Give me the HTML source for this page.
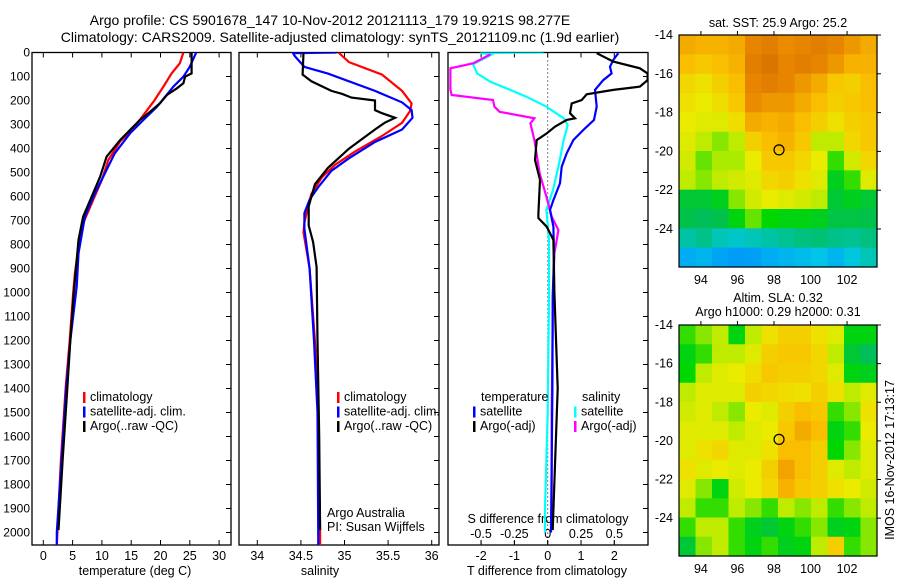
<!DOCTYPE html>
<html><head><meta charset="utf-8"><style>
body{margin:0;background:#fff}
svg{display:block;font-family:"Liberation Sans",sans-serif}
</style></head><body>
<svg id="c" width="900" height="580" viewBox="0 0 900 580"></svg>
<script>
// ---------- data ----------
const depthTicks=[0,100,200,300,400,500,600,700,800,900,1000,1100,1200,1300,1400,1500,1600,1700,1800,1900,2000];
const tTicks=[0,5,10,15,20,25,30];
const sTicks=[34,34.5,35,35.5,36];
const tdTicks=[-2,-1,0,1,2];
const sdTicks=[-0.5,-0.25,0,0.25,0.5];
const sdTickLabels=["-0.5","-0.25","0","0.25","0.5"];
// temperature profiles [depth, value]
const tempClim=[[0,23.9],[45,23.3],[87,21.9],[142,20.5],[205,18.8],[260,17.1],[316,15.4],[371,13.1],[448,11.1],[531,10.0],[615,8.5],[712,6.8],[809,6.0],[920,5.4],[1000,5.1],[1200,4.5],[1400,3.8],[1700,3.0],[2000,2.4],[2052,2.3]];
const tempSat=[[0,26.1],[10,25.9],[59,25.0],[101,23.9],[142,22.2],[184,20.8],[226,19.4],[281,17.1],[337,14.8],[420,12.2],[504,10.5],[587,8.8],[684,7.1],[837,6.0],[976,5.7],[1200,4.6],[1400,3.9],[1700,3.1],[2000,2.3],[2052,2.3]];
const tempArgo=[[0,25.3],[87,25.3],[101,24.2],[128,23.9],[149,22.8],[177,21.1],[212,19.9],[247,18.2],[281,16.5],[323,14.8],[365,13.1],[434,10.8],[518,9.7],[615,8.0],[684,6.8],[781,6.0],[1000,5.2],[1200,4.6],[1400,4.1],[1700,3.3],[1990,2.6]];
// salinity profiles
const salClim=[[0,34.93],[40,35.05],[92,35.43],[160,35.66],[212,35.77],[245,35.75],[293,35.66],[348,35.43],[413,35.12],[468,34.89],[521,34.74],[589,34.62],[629,34.59],[709,34.54],[749,34.53],[900,34.6],[1200,34.66],[1500,34.7],[2000,34.72],[2052,34.72]];
const salSat=[[0,34.91],[3,34.41],[15,34.43],[60,34.54],[88,34.81],[160,35.35],[208,35.66],[240,35.77],[272,35.78],[321,35.66],[373,35.35],[441,35.05],[493,34.85],[561,34.70],[613,34.60],[669,34.54],[735,34.54],[900,34.6],[1200,34.65],[1500,34.69],[2052,34.7]];
const salArgo=[[0,34.53],[92,34.52],[120,34.62],[160,34.85],[172,34.97],[188,35.08],[200,35.35],[240,35.35],[253,35.43],[272,35.58],[293,35.46],[321,35.35],[401,35.05],[481,34.81],[549,34.66],[641,34.59],[721,34.59],[790,34.64],[894,34.68],[1200,34.69],[1600,34.71],[1990,34.72]];
// difference profiles
const tdSat=[[3,2.12],[31,1.97],[59,1.87],[87,1.92],[115,1.67],[156,1.42],[226,1.47],[281,1.39],[323,1.07],[365,0.77],[420,0.57],[476,0.42],[545,0.37],[615,0.17],[656,0.07],[726,0.17],[851,0.19],[1017,0.15],[1400,0.14],[2000,0.1]];
const tdArgo=[[3,1.47],[38,1.97],[66,2.77],[87,3.0],[115,3.0],[142,2.77],[156,1.97],[174,1.17],[198,1.02],[212,0.72],[253,0.67],[274,0.82],[281,0.57],[309,0.22],[337,-0.03],[365,-0.33],[448,-0.38],[531,-0.23],[670,-0.28],[690,-0.28],[726,-0.03],[781,0.17],[1000,0.2],[1400,0.3],[1600,0.25],[1990,0.15]];
const sdSat=[[0,-0.03],[2,-0.51],[8,-0.42],[49,-0.56],[87,-0.53],[122,-0.43],[149,-0.31],[184,-0.16],[226,-0.01],[274,0.12],[302,0.15],[365,0.12],[476,0.08],[573,0.04],[656,-0.01],[781,0.01],[1017,0.01],[1500,0.0],[1900,-0.02],[2000,-0.02]];
const sdArgo=[[8,-0.43],[45,-0.56],[66,-0.73],[156,-0.73],[177,-0.72],[198,-0.41],[226,-0.40],[247,-0.36],[274,-0.10],[295,-0.13],[365,-0.10],[504,-0.06],[601,-0.01],[684,0.03],[740,0.08],[837,0.05],[1017,0.04],[1500,0.03],[1990,0.03]];
// map grids (normalized colour values, rows north->south)
const sstGrid=[
[0.8,0.78,0.78,0.8,0.9,0.92,0.88,0.9,0.92,0.9,0.85,0.8],
[0.75,0.72,0.75,0.78,0.92,0.95,0.9,0.92,0.9,0.85,0.78,0.78],
[0.68,0.65,0.7,0.75,0.9,0.92,0.9,0.85,0.8,0.72,0.7,0.75],
[0.65,0.62,0.66,0.72,0.88,0.85,0.85,0.8,0.75,0.7,0.72,0.75],
[0.62,0.6,0.6,0.66,0.8,0.78,0.8,0.75,0.7,0.65,0.7,0.72],
[0.6,0.55,0.5,0.55,0.7,0.75,0.78,0.72,0.55,0.55,0.68,0.72],
[0.58,0.48,0.52,0.52,0.62,0.72,0.72,0.68,0.62,0.45,0.58,0.68],
[0.55,0.5,0.55,0.58,0.6,0.68,0.7,0.65,0.6,0.38,0.45,0.6],
[0.35,0.35,0.38,0.5,0.58,0.62,0.6,0.58,0.55,0.35,0.38,0.35],
[0.32,0.3,0.32,0.4,0.48,0.42,0.4,0.4,0.38,0.33,0.33,0.32],
[0.22,0.25,0.2,0.18,0.2,0.22,0.24,0.26,0.27,0.25,0.24,0.26],
[0.08,0.1,0.06,0.04,0.05,0.08,0.1,0.12,0.14,0.1,0.16,0.2]];
const slaGrid=[
[0.45,0.5,0.55,0.4,0.55,0.65,0.7,0.7,0.65,0.6,0.4,0.4],
[0.4,0.45,0.55,0.55,0.6,0.7,0.72,0.72,0.68,0.55,0.35,0.3],
[0.42,0.55,0.6,0.62,0.66,0.72,0.7,0.7,0.68,0.6,0.4,0.38],
[0.55,0.6,0.6,0.6,0.7,0.68,0.66,0.65,0.7,0.65,0.55,0.6],
[0.58,0.6,0.55,0.5,0.62,0.6,0.7,0.75,0.72,0.45,0.5,0.65],
[0.6,0.6,0.6,0.55,0.6,0.62,0.72,0.8,0.75,0.4,0.45,0.62],
[0.6,0.65,0.68,0.6,0.6,0.65,0.75,0.75,0.7,0.42,0.5,0.6],
[0.65,0.6,0.62,0.6,0.62,0.7,0.82,0.75,0.7,0.6,0.55,0.6],
[0.6,0.5,0.4,0.58,0.62,0.68,0.78,0.72,0.7,0.65,0.62,0.58],
[0.55,0.45,0.45,0.55,0.5,0.45,0.55,0.5,0.55,0.45,0.5,0.55],
[0.45,0.55,0.55,0.45,0.38,0.35,0.4,0.45,0.5,0.38,0.4,0.5],
[0.35,0.5,0.55,0.45,0.4,0.45,0.38,0.4,0.55,0.7,0.45,0.5]];
const lonTicks=[94,96,98,100,102];
const latTicks=[-14,-16,-18,-20,-22,-24];
const floatLon=98.277, floatLat=-19.921;

// ---------- helpers ----------
const NS="http://www.w3.org/2000/svg";
const svg=document.getElementById('c');
function mk(tag,attrs,parent){const e=document.createElementNS(NS,tag);for(const k in attrs)e.setAttribute(k,attrs[k]);(parent||svg).appendChild(e);return e;}
function txt(x,y,s,size,anchor,parent){const t=mk('text',{x:x,y:y,'font-size':size,'text-anchor':anchor||'middle','dominant-baseline':'central',fill:'#000'},parent);t.textContent=s;return t;}
const Y0=52.5, PXM=0.24, YB=545;
const yD=d=>Y0+d*PXM;
const xT=v=>43.3+v*5.86;
const xS=v=>257.3+(v-34)*87.2;
const xTD=v=>547.7+v*33.3;
const xSD=v=>547.7+v*133.3;

function panel(x0,x1,name){
  const g=mk('g',{});
  
  
  mk('rect',{x:x0,y:Y0,width:x1-x0,height:YB-Y0,fill:'#fff',stroke:'#000','stroke-width':1.3},g);
  depthTicks.forEach(d=>{mk('line',{x1:x1,x2:x1-5,y1:yD(d),y2:yD(d),stroke:'#000'},g);});
  return g;
}
function series(g,pts,xf,color,name,clipId){
  const p=mk('polyline',{points:pts.map(q=>xf(q[1]).toFixed(1)+','+yD(q[0]).toFixed(1)).join(' '),fill:'none',stroke:color,'stroke-width':2.2,'stroke-linejoin':'miter','clip-path':'url(#'+clipId+')'},g);
  
  
}
const defs=mk('defs',{});
[['c1',32,231],['c2',239,439],['c3',448,648]].forEach(c=>{const cp=mk('clipPath',{id:c[0]},defs);mk('rect',{x:c[1],y:Y0,width:c[2]-c[1],height:YB-Y0},cp);});

// titles
let t=txt(330,20,'Argo profile: CS 5901678_147 10-Nov-2012 20121113_179 19.921S 98.277E',14);

t=txt(340,37,'Climatology: CARS2009. Satellite-adjusted climatology: synTS_20121109.nc (1.9d earlier)',14);


// depth labels
depthTicks.forEach(d=>{const e=txt(30,yD(d),String(d),12,'end');});

// panel 1 temperature
const g1=panel(32,231,'temperature-panel');
tTicks.forEach(v=>{mk('line',{x1:xT(v),x2:xT(v),y1:Y0,y2:Y0+5,stroke:'#000'},g1);mk('line',{x1:xT(v),x2:xT(v),y1:YB,y2:YB-5,stroke:'#000'},g1);txt(xT(v),556,String(v),12.5,'middle',g1);});
txt(135,571,'temperature (deg C)',12.5,'middle',g1);
series(g1,tempClim,xT,'#f00','temp-climatology-line','c1');
series(g1,tempSat,xT,'#00f','temp-satellite-line','c1');
series(g1,tempArgo,xT,'#000','temp-argo-line','c1');
function legend(g,x,y,items){items.forEach((it,i)=>{mk('rect',{x:x,y:y+i*14.5-5,width:2.5,height:11,fill:it[1]},g);txt(x+7,y+i*14.5,it[0],12.5,'start',g);});}
legend(g1,83,397,[['climatology','#f00'],['satellite-adj. clim.','#00f'],['Argo(..raw -QC)','#000']]);

// panel 2 salinity
const g2=panel(239,439,'salinity-panel');
sTicks.forEach(v=>{mk('line',{x1:xS(v),x2:xS(v),y1:Y0,y2:Y0+5,stroke:'#000'},g2);mk('line',{x1:xS(v),x2:xS(v),y1:YB,y2:YB-5,stroke:'#000'},g2);txt(xS(v),556,String(v),12.5,'middle',g2);});
txt(320,571,'salinity',12.5,'middle',g2);
series(g2,salClim,xS,'#f00','sal-climatology-line','c2');
series(g2,salSat,xS,'#00f','sal-satellite-line','c2');
series(g2,salArgo,xS,'#000','sal-argo-line','c2');
legend(g2,337,397,[['climatology','#f00'],['satellite-adj. clim.','#00f'],['Argo(..raw -QC)','#000']]);
txt(327,513,'Argo Australia',12.5,'start',g2);
txt(327,527,'PI: Susan Wijffels',12.5,'start',g2);

// panel 3 differences
const g3=panel(448,648,'difference-panel');
tdTicks.forEach(v=>{mk('line',{x1:xTD(v),x2:xTD(v),y1:Y0,y2:Y0+5,stroke:'#000'},g3);mk('line',{x1:xTD(v),x2:xTD(v),y1:YB,y2:YB-5,stroke:'#000'},g3);txt(xTD(v),556,String(v),12.5,'middle',g3);});
sdTicks.forEach((v,i)=>{mk('line',{x1:xSD(v),x2:xSD(v),y1:YB-4,y2:YB-1,stroke:'#000'},g3);txt(xSD(v),534,sdTickLabels[i],12.5,'middle',g3);});
txt(548,519,'S difference from climatology',12.5,'middle',g3);
txt(547,571,'T difference from climatology',12.5,'middle',g3);
mk('line',{x1:xTD(0),x2:xTD(0),y1:Y0,y2:YB,stroke:'#000','stroke-dasharray':'1,3'},g3);
series(g3,sdSat,xSD,'#0ff','sdiff-satellite-line','c3');
series(g3,sdArgo,xSD,'#f0f','sdiff-argo-line','c3');
series(g3,tdSat,xTD,'#00f','tdiff-satellite-line','c3');
series(g3,tdArgo,xTD,'#000','tdiff-argo-line','c3');
txt(481,397,'temperature',12.5,'start',g3);
legend(g3,473,411.5,[['satellite','#00f'],['Argo(-adj)','#000']]);
txt(582,397,'salinity',12.5,'start',g3);
legend(g3,574,411.5,[['satellite','#0ff'],['Argo(-adj)','#f0f']]);

// maps
const cmapStops=[[0,[0,140,255]],[0.15,[0,200,230]],[0.3,[0,190,90]],[0.42,[0,215,0]],[0.52,[170,235,0]],[0.62,[235,235,0]],[0.75,[250,190,0]],[0.88,[235,140,0]],[1,[210,100,0]]];
function cmap(v){for(let i=1;i<cmapStops.length;i++){if(v<=cmapStops[i][0]){const a=cmapStops[i-1],b=cmapStops[i],f=(v-a[0])/(b[0]-a[0]);return 'rgb('+a[1].map((c,k)=>Math.round(c+(b[1][k]-c)*f)).join(',')+')';}}return 'rgb(210,100,0)';}
function drawMap(grid,x0,y0,x1,y1,name){
  const g=mk('g',{});
  
  
  const lonL=92.8,lonR=103.64,latT=-14,latB=-25.96;
  const xL=v=>x0+(v-lonL)/(lonR-lonL)*(x1-x0);
  const yL=v=>y0+(latT-v)/(latT-latB)*(y1-y0);
  const rows=grid.length,cols=grid[0].length,cw=(x1-x0)/cols,ch=(y1-y0)/rows;
  grid.forEach((row,r)=>row.forEach((v,c)=>{const cell=mk('rect',{x:x0+c*cw,y:y0+r*ch,width:cw+0.6,height:ch+0.6,fill:cmap(v)},g);
    
    }));
  mk('rect',{x:x0,y:y0,width:x1-x0,height:y1-y0,fill:'none',stroke:'#000','stroke-width':1.2},g);
  lonTicks.forEach(v=>{mk('line',{x1:xL(v),x2:xL(v),y1:y0,y2:y0-4,stroke:'#000'},g);txt(xL(v),y1+13,String(v),12.5,'middle',g);});
  latTicks.forEach(v=>{mk('line',{x1:x1,x2:x1+4,y1:yL(v),y2:yL(v),stroke:'#000'},g);txt(673,yL(v),String(v),12.5,'end',g);});
  const m=mk('circle',{cx:xL(floatLon),cy:yL(floatLat),r:5,fill:'none',stroke:'#000','stroke-width':1.2},g);
  
  
  return g;
}
drawMap(sstGrid,679,35,877,267,'sst-map');
txt(778,23,'sat. SST: 25.9 Argo: 25.2',12.5);
drawMap(slaGrid,679,325,877,556,'sla-map');
txt(778,298,'Altim. SLA: 0.32',12.5);
txt(778,312,'Argo h1000: 0.29 h2000: 0.31',12.5);
const st=txt(0,0,'IMOS 16-Nov-2012 17:13:17',12.5);
st.setAttribute('transform','translate(890,460) rotate(-90)');


</script>
</body></html>
